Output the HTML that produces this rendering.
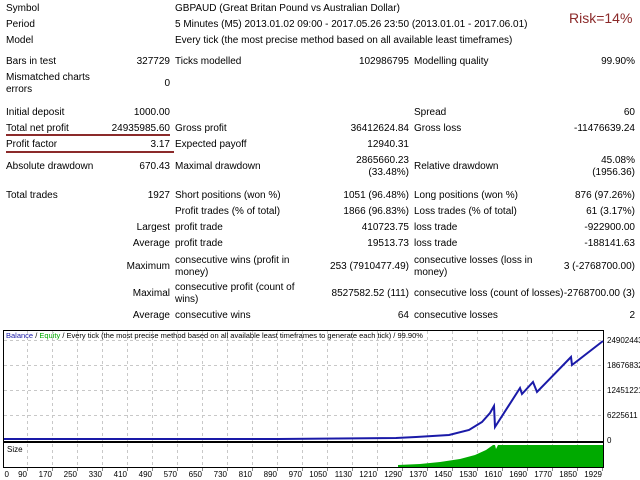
<!DOCTYPE html>
<html><head><meta charset="utf-8"><style>
body{margin:0;width:640px;height:480px;background:#fff;position:relative;overflow:hidden;font-family:"Liberation Sans","DejaVu Sans",sans-serif;font-size:10px;color:#000}
.t{position:absolute;white-space:nowrap;line-height:12px}
.r{text-align:right}
</style></head><body>
<div class="t" style="left:6px;top:3px">Symbol</div>
<div class="t" style="left:175px;top:3px">GBPAUD (Great Britan Pound vs Australian Dollar)</div>
<div class="t" style="left:6px;top:19px">Period</div>
<div class="t" style="left:175px;top:19px">5 Minutes (M5) 2013.01.02 09:00 - 2017.05.26 23:50 (2013.01.01 - 2017.06.01)</div>
<div class="t" style="left:6px;top:35px">Model</div>
<div class="t" style="left:175px;top:35px">Every tick (the most precise method based on all available least timeframes)</div>
<div class="t" style="left:569px;top:10px;font-size:14px;line-height:16px;color:#8b2a2a">Risk=14%</div>

<div class="t" style="left:6px;top:56px">Bars in test</div>
<div class="t r" style="right:470px;top:56px">327729</div>
<div class="t" style="left:175px;top:56px">Ticks modelled</div>
<div class="t r" style="right:231px;top:56px">102986795</div>
<div class="t" style="left:414px;top:56px">Modelling quality</div>
<div class="t r" style="right:5px;top:56px">99.90%</div>

<div class="t" style="left:6px;top:72px">Mismatched charts<br>errors</div>
<div class="t r" style="right:470px;top:78px">0</div>

<div class="t" style="left:6px;top:107px">Initial deposit</div>
<div class="t r" style="right:470px;top:107px">1000.00</div>
<div class="t" style="left:414px;top:107px">Spread</div>
<div class="t r" style="right:5px;top:107px">60</div>

<div class="t" style="left:6px;top:123px">Total net profit</div>
<div class="t r" style="right:470px;top:123px">24935985.60</div>
<div class="t" style="left:175px;top:123px">Gross profit</div>
<div class="t r" style="right:231px;top:123px">36412624.84</div>
<div class="t" style="left:414px;top:123px">Gross loss</div>
<div class="t r" style="right:5px;top:123px">-11476639.24</div>
<div style="position:absolute;left:6px;top:134px;width:164px;height:2px;background:#8b2a2a"></div>

<div class="t" style="left:6px;top:139px">Profit factor</div>
<div class="t r" style="right:470px;top:139px">3.17</div>
<div class="t" style="left:175px;top:139px">Expected payoff</div>
<div class="t r" style="right:231px;top:139px">12940.31</div>
<div style="position:absolute;left:6px;top:151px;width:168px;height:2px;background:#8b2a2a"></div>

<div class="t" style="left:6px;top:161px">Absolute drawdown</div>
<div class="t r" style="right:470px;top:161px">670.43</div>
<div class="t" style="left:175px;top:161px">Maximal drawdown</div>
<div class="t r" style="right:231px;top:155px">2865660.23<br>(33.48%)</div>
<div class="t" style="left:414px;top:161px">Relative drawdown</div>
<div class="t r" style="right:5px;top:155px">45.08%<br>(1956.36)</div>

<div class="t" style="left:6px;top:190px">Total trades</div>
<div class="t r" style="right:470px;top:190px">1927</div>
<div class="t" style="left:175px;top:190px">Short positions (won %)</div>
<div class="t r" style="right:231px;top:190px">1051 (96.48%)</div>
<div class="t" style="left:414px;top:190px">Long positions (won %)</div>
<div class="t r" style="right:5px;top:190px">876 (97.26%)</div>

<div class="t" style="left:175px;top:206px">Profit trades (% of total)</div>
<div class="t r" style="right:231px;top:206px">1866 (96.83%)</div>
<div class="t" style="left:414px;top:206px">Loss trades (% of total)</div>
<div class="t r" style="right:5px;top:206px">61 (3.17%)</div>

<div class="t r" style="right:470px;top:222px">Largest</div>
<div class="t" style="left:175px;top:222px">profit trade</div>
<div class="t r" style="right:231px;top:222px">410723.75</div>
<div class="t" style="left:414px;top:222px">loss trade</div>
<div class="t r" style="right:5px;top:222px">-922900.00</div>

<div class="t r" style="right:470px;top:238px">Average</div>
<div class="t" style="left:175px;top:238px">profit trade</div>
<div class="t r" style="right:231px;top:238px">19513.73</div>
<div class="t" style="left:414px;top:238px">loss trade</div>
<div class="t r" style="right:5px;top:238px">-188141.63</div>

<div class="t r" style="right:470px;top:261px">Maximum</div>
<div class="t" style="left:175px;top:255px">consecutive wins (profit in<br>money)</div>
<div class="t r" style="right:231px;top:261px">253 (7910477.49)</div>
<div class="t" style="left:414px;top:255px">consecutive losses (loss in<br>money)</div>
<div class="t r" style="right:5px;top:261px">3 (-2768700.00)</div>

<div class="t r" style="right:470px;top:288px">Maximal</div>
<div class="t" style="left:175px;top:282px">consecutive profit (count of<br>wins)</div>
<div class="t r" style="right:231px;top:288px">8527582.52 (111)</div>
<div class="t" style="left:414px;top:288px">consecutive loss (count of losses)</div>
<div class="t r" style="right:5px;top:288px">-2768700.00 (3)</div>

<div class="t r" style="right:470px;top:310px">Average</div>
<div class="t" style="left:175px;top:310px">consecutive wins</div>
<div class="t r" style="right:231px;top:310px">64</div>
<div class="t" style="left:414px;top:310px">consecutive losses</div>
<div class="t r" style="right:5px;top:310px">2</div>

<svg style="position:absolute;left:0;top:0" width="640" height="480">
<g stroke="#c8c8c8" stroke-dasharray="3,3" stroke-width="1">
<line x1="4" y1="415.5" x2="603" y2="415.5"/><line x1="4" y1="390.5" x2="603" y2="390.5"/><line x1="4" y1="365.5" x2="603" y2="365.5"/><line x1="4" y1="340.5" x2="603" y2="340.5"/>
<path d="M27.5 331V441M52.5 331V441M77.5 331V441M102.5 331V441M127.5 331V441M152.5 331V441M177.5 331V441M202.5 331V441M227.5 331V441M252.5 331V441M277.5 331V441M302.5 331V441M327.5 331V441M352.5 331V441M377.5 331V441M402.5 331V441M427.5 331V441M452.5 331V441M477.5 331V441M502.5 331V441M527.5 331V441M552.5 331V441M577.5 331V441"/>
<path d="M27.5 444V467M52.5 444V467M77.5 444V467M102.5 444V467M127.5 444V467M152.5 444V467M177.5 444V467M202.5 444V467M227.5 444V467M252.5 444V467M277.5 444V467M302.5 444V467M327.5 444V467M352.5 444V467M377.5 444V467M402.5 444V467M427.5 444V467M452.5 444V467M477.5 444V467M502.5 444V467M527.5 444V467M552.5 444V467M577.5 444V467"/>
</g>
<g stroke="#888" stroke-width="1">
<path d="M27.5 468V471M52.5 468V471M77.5 468V471M102.5 468V471M127.5 468V471M152.5 468V471M177.5 468V471M202.5 468V471M227.5 468V471M252.5 468V471M277.5 468V471M302.5 468V471M327.5 468V471M352.5 468V471M377.5 468V471M402.5 468V471M427.5 468V471M452.5 468V471M477.5 468V471M502.5 468V471M527.5 468V471M552.5 468V471M577.5 468V471M602.5 468V471"/>
</g>
<rect x="3.5" y="330.5" width="600" height="111" fill="none" stroke="#000"/>
<rect x="3.5" y="442.5" width="600" height="25" fill="none" stroke="#000"/>
<polygon fill="#00aa00" points="398,467 398,465 420,464 440,462 460,459 475,455 486,450 493,445 495,445 496,449 498,445 603,445 603,467"/>
<polyline fill="none" stroke="#00aa00" stroke-width="1" points="4,439 278,439 396,438 416,437 449,435"/>
<polyline fill="none" stroke="#1a1aa8" stroke-width="2" points="4,439 278,439 396,438 416,437 449,435 469,430 482,422 490,413 494,406 495,427 520,388 522,394 533,382 537,392 571,357 572,365 603,341"/>
<g font-size="8" font-family="Liberation Sans,sans-serif" fill="#000">
<text x="607" y="343">24902443</text><text x="607" y="368">18676832</text><text x="607" y="393">12451221</text><text x="607" y="418">6225611</text><text x="607" y="443">0</text>
<text x="7" y="452">Size</text>
<text x="6" y="338" font-size="7.5"><tspan fill="#1a1aa8">Balance</tspan> / <tspan fill="#00aa00">Equity</tspan> / Every tick (the most precise method based on all available least timeframes to generate each tick) / 99.90%</text>
<g text-anchor="end">
<text x="9" y="477">0</text><text x="27" y="477">90</text><text x="52" y="477">170</text><text x="77" y="477">250</text><text x="102" y="477">330</text><text x="127" y="477">410</text><text x="152" y="477">490</text><text x="177" y="477">570</text><text x="202" y="477">650</text><text x="227" y="477">730</text><text x="252" y="477">810</text><text x="277" y="477">890</text><text x="302" y="477">970</text><text x="327" y="477">1050</text><text x="352" y="477">1130</text><text x="377" y="477">1210</text><text x="402" y="477">1290</text><text x="427" y="477">1370</text><text x="452" y="477">1450</text><text x="477" y="477">1530</text><text x="502" y="477">1610</text><text x="527" y="477">1690</text><text x="552" y="477">1770</text><text x="577" y="477">1850</text><text x="602" y="477">1929</text>
</g></g>
</svg>
</body></html>
